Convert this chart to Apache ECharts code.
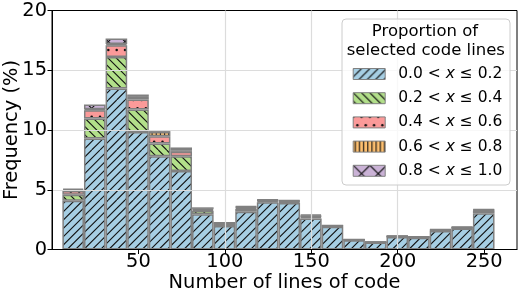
<!DOCTYPE html>
<html><head><meta charset="utf-8">
<script src="https://cdn.jsdelivr.net/npm/echarts@6/dist/echarts.min.js"></script>
<style>html,body{margin:0;padding:0;background:#fff}#c{width:520px;height:294px}</style>
</head><body><div id="c"></div>
<script>
// Histogram bin centres (bins of width 12.5 from 6 to 256)
const binCenters = [12.25, 24.75, 37.25, 49.75, 62.25, 74.75, 87.25, 99.75, 112.25, 124.75,
                    137.25, 149.75, 162.25, 174.75, 187.25, 199.75, 212.25, 224.75, 237.25, 249.75];
// Frequency (%) for each proportion class (stacked)
const p00_02 = [4.08, 9.29, 13.47, 9.84, 7.81, 6.56, 2.95, 1.96, 3.16, 3.95, 3.90, 2.60, 1.90, 0.78, 0.58, 1.05, 0.99, 1.55, 1.76, 3.04];
const p02_04 = [0.50, 1.67, 2.64, 1.87, 1.06, 1.25, 0.30, 0.22, 0.25, 0.10, 0.08, 0.10, 0.04, 0.02, 0.02, 0.02, 0.02, 0.04, 0.04, 0.20];
const p04_06 = [0.31, 0.69, 0.98, 0.84, 0.61, 0.36, 0.08, 0.03, 0.10, 0.05, 0.05, 0.08, 0.03, 0.02, 0.01, 0.02, 0.02, 0.03, 0.03, 0.05];
const p06_08 = [0.10, 0.08, 0.10, 0.22, 0.36, 0.14, 0.07, 0.02, 0.05, 0.04, 0.05, 0.06, 0.02, 0.01, 0.01, 0.02, 0.02, 0.03, 0.03, 0.04];
const p08_10 = [0.12, 0.41, 0.47, 0.20, 0.14, 0.23, 0.13, 0.02, 0.07, 0.05, 0.05, 0.10, 0.03, 0.02, 0.01, 0.02, 0.02, 0.04, 0.04, 0.05];
const seriesNames = ['0.0 < x ≤ 0.2', '0.2 < x ≤ 0.4', '0.4 < x ≤ 0.6', '0.6 < x ≤ 0.8', '0.8 < x ≤ 1.0'];
const xTicks = [50, 100, 150, 200, 250];
const legendTitle = ['Proportion of', 'selected code lines'];

const FONT = 'DejaVu Sans';
const T = 50;
function pattern(bg, draw) {
  const c = document.createElement('canvas');
  c.width = T; c.height = T;
  const g = c.getContext('2d');
  g.fillStyle = bg; g.fillRect(0, 0, T, T);
  g.strokeStyle = '#111'; g.fillStyle = '#111'; g.lineWidth = 1.1;
  draw(g);
  return { image: c, repeat: 'repeat' };
}
function diag(g, s, up) {
  g.beginPath();
  for (let k = -T; k <= 2 * T; k += s) {
    if (up) { g.moveTo(k, T); g.lineTo(k + T, 0); }
    else { g.moveTo(k, 0); g.lineTo(k + T, T); }
  }
  g.stroke();
}
const patBlue = pattern('#a6cee3', g => diag(g, T / 6, true));
const patGreen = pattern('#b2df8a', g => diag(g, T / 6, false));
const patRed = pattern('#fb9a99', g => {
  const s = T / 6;
  for (let r = -1; r <= 7; r++) {
    const off = (r % 2 === 0) ? 0 : s / 2;
    for (let cc = -1; cc <= 7; cc++) {
      g.beginPath(); g.arc(cc * s + off, r * s, 1.25, 0, Math.PI * 2); g.fill();
    }
  }
});
const patOrange = pattern('#fdbf6f', g => {
  const s = T / 12;
  g.beginPath();
  for (let x = s / 2; x < T; x += s) { g.moveTo(x, 0); g.lineTo(x, T); }
  g.stroke();
});
const patPurple = pattern('#cab2d6', g => { diag(g, T / 3, true); diag(g, T / 3, false); });
const pats = [patBlue, patGreen, patRed, patOrange, patPurple];
const vals = [p00_02, p02_04, p04_06, p06_08, p08_10];

const chart = echarts.init(document.getElementById('c'), null, { renderer: 'canvas' });
const series = vals.map((arr, i) => ({
  name: seriesNames[i],
  type: 'bar',
  stack: 'total',
  barWidth: '100%',
  // value first so that the stacked dimension is the frequency
  data: binCenters.map((c, j) => [arr[j], c]),
  encode: { x: 1, y: 0 },
  itemStyle: { color: pats[i], borderColor: '#808080', borderWidth: 1.5 },
  emphasis: { disabled: true },
  z: 2
}));

chart.setOption({
  animation: false,
  grid: { left: 52, right: 3, top: 10.5, bottom: 44.5, outerBoundsMode: 'none', containLabel: false,
          show: true, borderColor: '#000', borderWidth: 1, backgroundColor: 'transparent' },
  xAxis: {
    type: 'value', min: 0, max: 269, z: 3,
    axisLine: { show: true, onZero: false, lineStyle: { color: '#000', width: 1 } },
    axisTick: { show: true, length: 4.5, customValues: xTicks, lineStyle: { color: '#000', width: 1 } },
    axisLabel: { customValues: xTicks, fontSize: 19.4, color: '#000', fontFamily: FONT, margin: 3 },
    splitLine: { show: true, showMinLine: false, showMaxLine: false, lineStyle: { color: '#dcdcdc', width: 1.2 } },
    name: 'Number of lines of code', nameLocation: 'middle', nameGap: 24, nameMoveOverlap: false,
    nameTextStyle: { fontSize: 19.4, color: '#000', fontFamily: FONT }
  },
  yAxis: {
    type: 'value', min: 0, max: 20, interval: 5, z: 3,
    axisLine: { show: true, lineStyle: { color: '#000', width: 1 } },
    axisTick: { show: true, length: 4.5, lineStyle: { color: '#000', width: 1 } },
    axisLabel: { fontSize: 19.4, color: '#000', fontFamily: FONT, margin: 5 },
    splitLine: { show: true, showMinLine: false, showMaxLine: false, lineStyle: { color: '#dcdcdc', width: 1.2 } },
    name: 'Frequency (%)', nameLocation: 'middle', nameGap: 31, nameMoveOverlap: false,
    nameTextStyle: { fontSize: 19.4, color: '#000', fontFamily: FONT }
  },
  legend: {
    orient: 'vertical', left: 352.7, top: 65, padding: 0, itemGap: 6.2,
    itemWidth: 32, itemHeight: 11, icon: 'rect', selectedMode: false, z: 20,
    data: seriesNames,
    itemStyle: { borderColor: '#808080', borderWidth: 1 },
    formatter: n => n.replace(' x ', ' {i|x} '),
    textStyle: {
      fontSize: 15.5, fontFamily: FONT, color: '#000', lineHeight: 18, padding: [0, 0, 0, 8],
      rich: { i: { fontStyle: 'italic', fontSize: 15.5, fontFamily: FONT, color: '#000', lineHeight: 18 } }
    }
  },
  graphic: [
    { type: 'rect', z: 10, shape: { x: 342, y: 19, width: 168, height: 166, r: 4 },
      style: { fill: 'rgba(255,255,255,0.8)', stroke: '#cccccc', lineWidth: 1 } },
    { type: 'text', z: 11, style: { text: legendTitle[0], x: 425, y: 31.7, align: 'center', verticalAlign: 'middle', font: '16.5px "DejaVu Sans"', fill: '#000' } },
    { type: 'text', z: 11, style: { text: legendTitle[1], x: 425.8, y: 50.7, align: 'center', verticalAlign: 'middle', font: '16.5px "DejaVu Sans"', fill: '#000' } }
  ],
  series: series
});
</script>
</body></html>
